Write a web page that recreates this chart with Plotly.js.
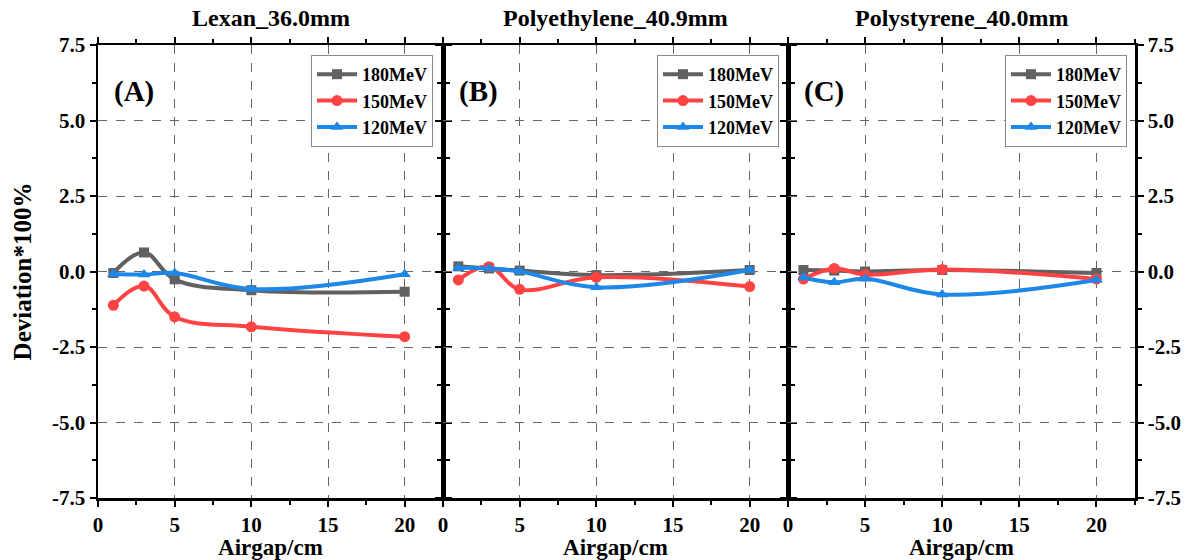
<!DOCTYPE html>
<html>
<head>
<meta charset="utf-8">
<script src="https://cdn.plot.ly/plotly-3.0.1.min.js"></script>
<style>html,body{margin:0;padding:0;background:#fff;}#chart{width:1184px;height:560px;}</style>
</head>
<body>
<div id="chart"></div>
<script>
// Data
const airgap = [1, 3, 5, 10, 20];
const energies = ['180MeV', '150MeV', '120MeV'];
const panelTitles = ['Lexan_36.0mm', 'Polyethylene_40.9mm', 'Polystyrene_40.0mm'];
const panelLabels = ['(A)', '(B)', '(C)'];

const lexan_180 = [-0.05, 0.63, -0.26, -0.62, -0.67];
const lexan_150 = [-1.12, -0.48, -1.50, -1.83, -2.16];
const lexan_120 = [-0.08, -0.10, -0.05, -0.58, -0.09];

const pe_180 = [0.17, 0.10, 0.03, -0.12, 0.05];
const pe_150 = [-0.28, 0.16, -0.59, -0.19, -0.50];
const pe_120 = [0.12, 0.10, 0.00, -0.52, 0.05];

const ps_180 = [0.05, 0.03, 0.00, 0.05, -0.05];
const ps_150 = [-0.25, 0.10, -0.10, 0.07, -0.25];
const ps_120 = [-0.20, -0.36, -0.24, -0.76, -0.28];

const yTicks = [-7.5, -5.0, -2.5, 0.0, 2.5, 5.0, 7.5];
const yTickText = ['-7.5', '-5.0', '-2.5', '0.0', '2.5', '5.0', '7.5'];
const xTicks = [0, 5, 10, 15, 20];

// Styles
const colors = ['#616161', '#FF4343', '#1E88E8'];
const symbols = ['square', 'circle', 'triangle-up'];
const msizes = [10, 11, 11];
const FONT = '"Liberation Serif", "Times New Roman", serif';

const panels = [
  [lexan_180, lexan_150, lexan_120],
  [pe_180, pe_150, pe_120],
  [ps_180, ps_150, ps_120]
];

const traces = [];
panels.forEach((series, p) => {
  series.forEach((ys, i) => {
    traces.push({
      x: airgap, y: ys, type: 'scatter', mode: 'lines+markers',
      name: energies[i],
      xaxis: p === 0 ? 'x' : 'x' + (p + 1),
      yaxis: p === 0 ? 'y' : 'y' + (p + 1),
      legend: p === 0 ? 'legend' : 'legend' + (p + 1),
      line: {color: colors[i], width: 4, shape: 'spline', smoothing: 1.1},
      marker: {color: colors[i], symbol: symbols[i], size: msizes[i]},
      cliponaxis: false
    });
  });
});

const W = 1037;
const doms = [[0, 345 / W], [345 / W, 690 / W], [690 / W, 1]];

function xAxis(p) {
  return {
    domain: doms[p], range: [0, 22.5], tickvals: xTicks, ticktext: xTicks.map(String),
    anchor: p === 0 ? 'y' : 'y' + (p + 1),
    showline: true, linecolor: '#000', linewidth: 2.5, mirror: 'ticks',
    ticks: 'outside', ticklen: 6, tickwidth: 2, tickcolor: '#000',
    minor: {dtick: 2.5, tick0: 0, ticks: 'outside', ticklen: 4, tickwidth: 2, tickcolor: '#000', showgrid: false},
    showgrid: true, gridcolor: '#666', griddash: 'dash', gridwidth: 1,
    zeroline: false,
    tickfont: {family: FONT, size: 21, color: '#000', weight: 'bold'},
    title: {text: '<b>Airgap/cm</b>', font: {family: FONT, size: 23, color: '#000'}, standoff: 2}
  };
}
function yAxis(p) {
  const a = {
    domain: [0, 1], range: [-7.5, 7.5], tickvals: yTicks, ticktext: yTickText,
    anchor: p === 0 ? 'x' : 'x' + (p + 1),
    showline: true, linecolor: '#000', linewidth: 2.5, mirror: 'ticks',
    ticks: 'outside', ticklen: 6, tickwidth: 2, tickcolor: '#000',
    minor: {dtick: 1.25, tick0: 0, ticks: 'outside', ticklen: 4, tickwidth: 2, tickcolor: '#000', showgrid: false},
    showgrid: true, gridcolor: '#666', griddash: 'dash', gridwidth: 1,
    zeroline: false,
    tickfont: {family: FONT, size: 21, color: '#000', weight: 'bold'}
  };
  if (p === 0) {
    a.title = {text: '<b>Deviation*100%</b>', font: {family: FONT, size: 25, color: '#000'}, standoff: 14};
  } else if (p === 1) {
    a.showticklabels = false;
  } else {
    a.side = 'right';
  }
  return a;
}

function legendAt(xpx) {
  return {
    x: (xpx - 98) / W, y: (498 - 55) / 453, xanchor: 'left', yanchor: 'top',
    bgcolor: '#fff', bordercolor: '#888', borderwidth: 1,
    font: {family: FONT, size: 18, color: '#000', weight: 'bold'},
    itemwidth: 40, tracegroupgap: 0
  };
}

const annotations = [];
panelTitles.forEach((t, p) => {
  annotations.push({
    text: '<b>' + t + '</b>', xref: 'paper', yref: 'paper',
    x: (doms[p][0] + doms[p][1]) / 2, y: 1 + 27 / 453, xanchor: 'center', yanchor: 'middle',
    showarrow: false, font: {family: FONT, size: 24, color: '#000'}
  });
  annotations.push({
    text: '<b>' + panelLabels[p] + '</b>', xref: 'paper', yref: 'paper',
    x: doms[p][0] + 14 / W, y: (498 - 92) / 453, xanchor: 'left', yanchor: 'middle',
    showarrow: false, font: {family: FONT, size: 29, color: '#000'}
  });
});

const layout = {
  width: 1184, height: 560,
  margin: {l: 98, r: 49, t: 45, b: 62},
  paper_bgcolor: '#fff', plot_bgcolor: '#fff',
  showlegend: true,
  xaxis: xAxis(0), xaxis2: xAxis(1), xaxis3: xAxis(2),
  yaxis: yAxis(0), yaxis2: yAxis(1), yaxis3: yAxis(2),
  legend: legendAt(311), legend2: legendAt(657), legend3: legendAt(1005),
  annotations: annotations
};

Plotly.newPlot('chart', traces, layout, {displayModeBar: false, staticPlot: true});
</script>
</body>
</html>
